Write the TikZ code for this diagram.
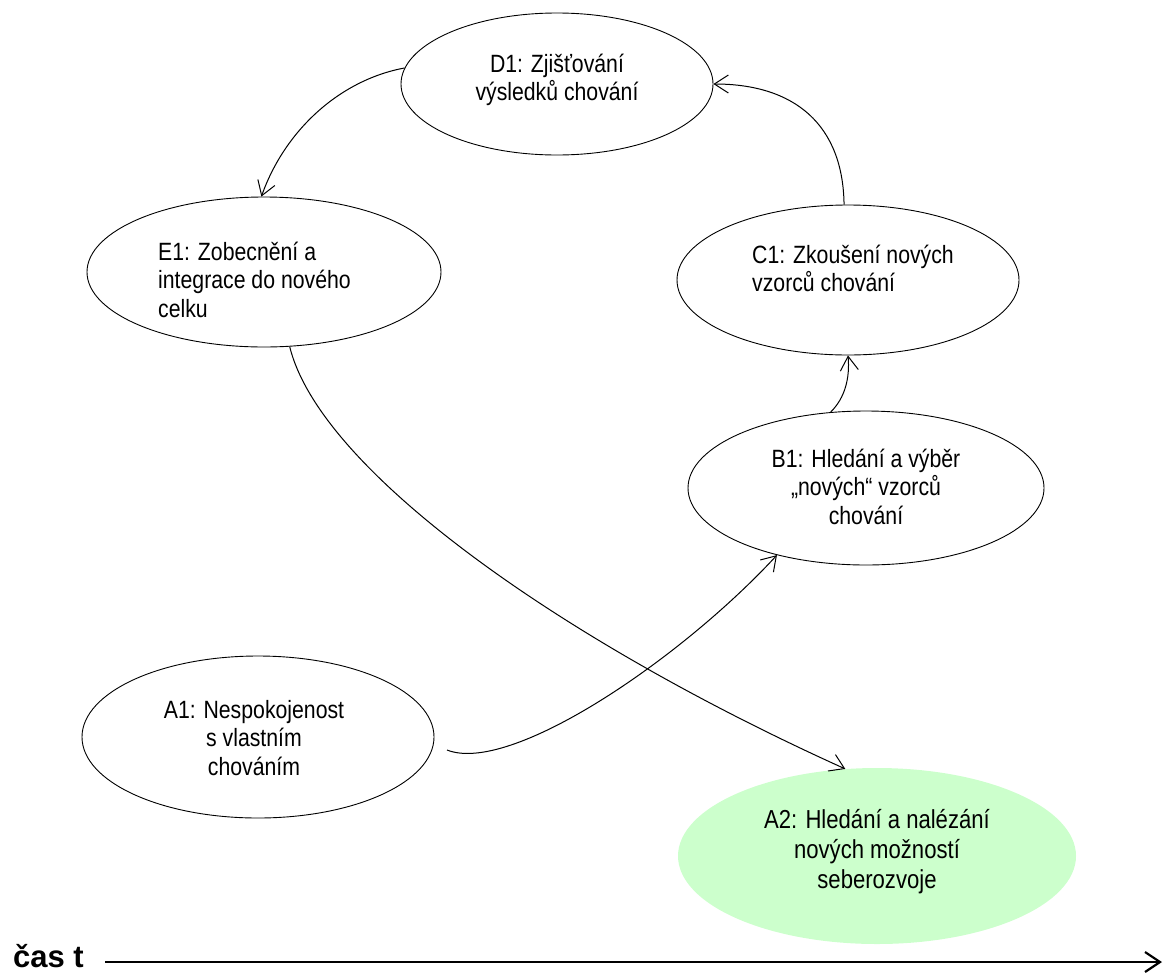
\documentclass[tikz,border=0pt]{standalone}
\usepackage{fontspec}
\setmainfont{Liberation Sans}[FakeStretch=0.85]
\newfontfamily\axisfont{Liberation Sans}
\usetikzlibrary{shapes.geometric,arrows.meta}
\definecolor{agreen}{HTML}{CCFFCC}
\begin{document}
\begin{tikzpicture}[x=1pt,y=-1pt,
  ell/.style={ellipse, draw=black, line width=0.9pt, inner sep=0pt},
  lbl/.style={font=\fontsize{25}{28.5}\selectfont, inner sep=0pt, anchor=base, align=center},
  lbll/.style={font=\fontsize{25}{28.5}\selectfont, inner sep=0pt, anchor=base west, align=left},
  conn/.style={line width=1pt, -{Straight Barb[length=14pt,width=18pt]}},
  axisline/.style={line width=2.6pt, -{Straight Barb[length=15pt,width=20pt,line width=2.2pt]}}]
\useasboundingbox (0,0) rectangle (1166,972);
% ellipses
\node[ell, minimum width=312pt, minimum height=142pt] (D1) at (557,84) {};
\node[ell, minimum width=354pt, minimum height=150pt] (E1) at (264,272) {};
\node[ell, minimum width=342pt, minimum height=150pt] (C1) at (848,280) {};
\node[ell, minimum width=356pt, minimum height=154pt] (B1) at (866,488) {};
\node[ell, minimum width=352pt, minimum height=162pt] (A1) at (258,737) {};
\node[ellipse, fill=agreen, inner sep=0pt, minimum width=398pt, minimum height=176pt] (A2) at (877,856) {};
% labels (anchor = baseline of the last line)
\node[lbl] (tD1) at (557,100.5) {D1: Zjišťování\\výsledků chování};
\node[lbll] (tE1) at (158,317) {E1: Zobecnění a\\integrace do nového\\celku};
\node[lbll] (tC1) at (752,291.5) {C1: Zkoušení nových\\vzorců chování};
\node[lbl] (tB1) at (866,524) {B1: Hledání a výběr\\„nových“ vzorců\\chování};
\node[lbl] (tA1) at (254,775) {A1: Nespokojenost\\s vlastním\\chováním};
\node[lbl, font=\fontsize{26}{30}\selectfont] (tA2) at (877,888) {A2: Hledání a nalézání\\nových možností\\seberozvoje};
% connectors
\coordinate (a1out) at (447,750);
\draw[conn] (D1.174) .. controls (340,80) and (285,130) .. (E1.92);
\draw[conn] (C1.93) .. controls (843,125) and (795,84) .. (D1.east);
\draw[conn] (B1.115) .. controls (845,398) and (850,378) .. (C1.south);
\draw[conn] (a1out) .. controls (510,775) and (680,660) .. (B1.217);
\draw[conn] (E1.-71) .. controls (320,470) and (560,640) .. (A2.110);
% time axis
\node[font=\axisfont\bfseries\fontsize{31}{34}\selectfont, inner sep=0pt, anchor=base west] (cas) at (13,967) {čas t};
\coordinate (ts) at (105,962);
\coordinate (te) at (1162,962);
\draw[axisline] (ts) -- (te);
\end{tikzpicture}
\end{document}
